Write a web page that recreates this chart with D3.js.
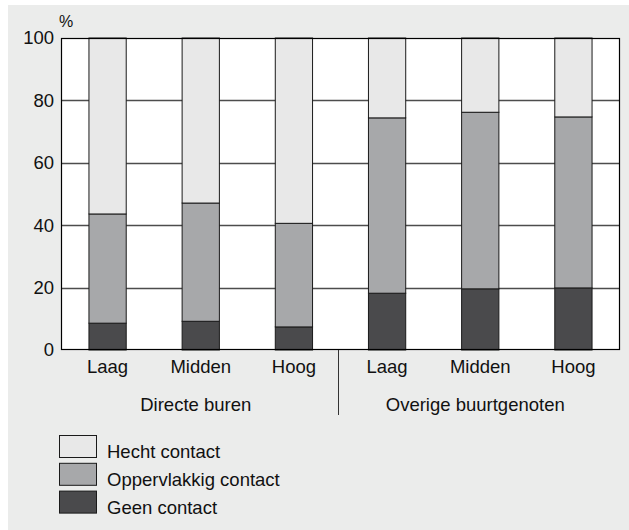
<!DOCTYPE html>
<html>
<head>
<meta charset="utf-8">
<script src="https://cdn.jsdelivr.net/npm/d3@7"></script>
<style>
  body { margin: 0; background: #fff; }
  svg { display: block; font-family: "Liberation Sans", Arial, sans-serif; }
</style>
</head>
<body>
<div id="chart"></div>
<script>
// data
let groups = ["Directe buren", "Overige buurtgenoten"];
let levels = ["Laag", "Midden", "Hoog"];
let series = ["Geen contact", "Oppervlakkig contact", "Hecht contact"];
let geen = [8.6, 9.2, 7.4, 18.2, 19.6, 19.9];
let oppervlakkig = [35.0, 37.9, 33.2, 56.2, 56.6, 54.8];
let hecht = [56.4, 52.9, 59.4, 25.6, 23.8, 25.3];
let yTicks = [0, 20, 40, 60, 80, 100];
let colors = ["#4a4a4c", "#a7a8aa", "#e8e8e8"];

let width = 629,
    height = 530;
let margin = {top: 38, right: 9, bottom: 180, left: 61};
let font = "'Liberation Sans', Arial, sans-serif";

// one row per bar
let rows = [];
groups.forEach((g, gi) => {
    levels.forEach((l, li) => {
        let i = gi * levels.length + li;
        rows.push({key: g + "|" + l, group: g, level: l,
                   "Geen contact": geen[i],
                   "Oppervlakkig contact": oppervlakkig[i],
                   "Hecht contact": hecht[i]});
    });
});

let svg = d3.select("#chart").append("svg")
    .attr("width", width)
    .attr("height", height);

//grey panel
svg.append("rect")
    .attr("x", 8).attr("y", 5)
    .attr("width", width - 8).attr("height", height - 5)
    .attr("fill", "#ebeceb");

let x = d3.scaleBand()
    .domain(rows.map(d => d.key))
    .range([margin.left, width - margin.right])
    .paddingInner(0.6)
    .paddingOuter(0.3);

let y = d3.scaleLinear()
    .domain([0, 100])
    .range([height - margin.bottom, margin.top]);

let color = d3.scaleOrdinal().domain(series).range(colors);

//plot background
svg.append("rect")
    .attr("x", margin.left).attr("y", y(100))
    .attr("width", width - margin.right - margin.left)
    .attr("height", y(0) - y(100))
    .attr("fill", "#fff");

//grid lines
svg.append("g")
    .selectAll("line")
    .data(yTicks.filter(t => t > 0 && t < 100))
    .join("line")
    .attr("x1", margin.left).attr("x2", width - margin.right)
    .attr("y1", d => Math.round(y(d)) + 0.5).attr("y2", d => Math.round(y(d)) + 0.5)
    .attr("stroke", "#4d4d4d")
    .attr("stroke-width", 1.3);

//stacked bars
let stacked = d3.stack().keys(series)(rows);
svg.append("g")
    .selectAll("g")
    .data(stacked)
    .join("g")
    .attr("fill", d => color(d.key))
    .selectAll("rect")
    .data(d => d)
    .join("rect")
    .attr("x", d => x(d.data.key))
    .attr("y", d => y(d[1]))
    .attr("width", x.bandwidth())
    .attr("height", d => y(d[0]) - y(d[1]))
    .attr("stroke", "#1a1a1a")
    .attr("stroke-width", 1);

//frame
svg.append("rect")
    .attr("x", margin.left + 0.5).attr("y", y(100) + 0.5)
    .attr("width", width - margin.right - margin.left - 1)
    .attr("height", y(0) - y(100) - 1)
    .attr("fill", "none")
    .attr("stroke", "#000")
    .attr("stroke-width", 1.2);

//y axis
let yAxis = svg.append("g")
    .attr("transform", `translate(${margin.left},0)`)
    .call(d3.axisLeft(y).tickValues(yTicks).tickSize(0).tickPadding(7));
yAxis.select(".domain").remove();
yAxis.selectAll("text")
    .attr("font-family", font)
    .attr("font-size", 18.5)
    .attr("fill", "#111");

svg.append("text")
    .attr("x", margin.left + 5).attr("y", 27)
    .attr("text-anchor", "middle")
    .attr("font-size", 16)
    .attr("fill", "#111")
    .text("%");

//x labels
let xAxis = svg.append("g")
    .attr("transform", `translate(0,${y(0)})`)
    .call(d3.axisBottom(x).tickSize(0).tickPadding(10).tickFormat(k => k.split("|")[1]));
xAxis.select(".domain").remove();
xAxis.selectAll("text")
    .attr("font-family", font)
    .attr("font-size", 18.5)
    .attr("fill", "#111");

//group labels
groups.forEach(g => {
    let mid = x(g + "|" + levels[1]) + x.bandwidth() / 2;
    svg.append("text")
        .attr("x", mid - 5).attr("y", 411)
        .attr("text-anchor", "middle")
        .attr("font-size", 18.5)
        .attr("fill", "#111")
        .text(g);
});

//separator between groups
let sepX = (x(groups[0] + "|" + levels[2]) + x.bandwidth() + x(groups[1] + "|" + levels[0])) / 2 - 2;
svg.append("line")
    .attr("x1", Math.round(sepX) + 0.5).attr("x2", Math.round(sepX) + 0.5)
    .attr("y1", y(0)).attr("y2", 415)
    .attr("stroke", "#333")
    .attr("stroke-width", 1);

//legend
let legend = svg.append("g")
    .attr("transform", "translate(59,435)")
    .selectAll("g")
    .data(series.slice().reverse())
    .join("g")
    .attr("transform", (d, i) => `translate(0,${i * 27.8})`);
legend.append("rect")
    .attr("x", 0.5).attr("y", 0.5)
    .attr("width", 37).attr("height", 22)
    .attr("fill", d => color(d))
    .attr("stroke", "#1a1a1a")
    .attr("stroke-width", 1);
legend.append("text")
    .attr("x", 48).attr("y", 23)
    .attr("font-size", 18.5)
    .attr("fill", "#111")
    .text(d => d);
</script>
</body>
</html>
